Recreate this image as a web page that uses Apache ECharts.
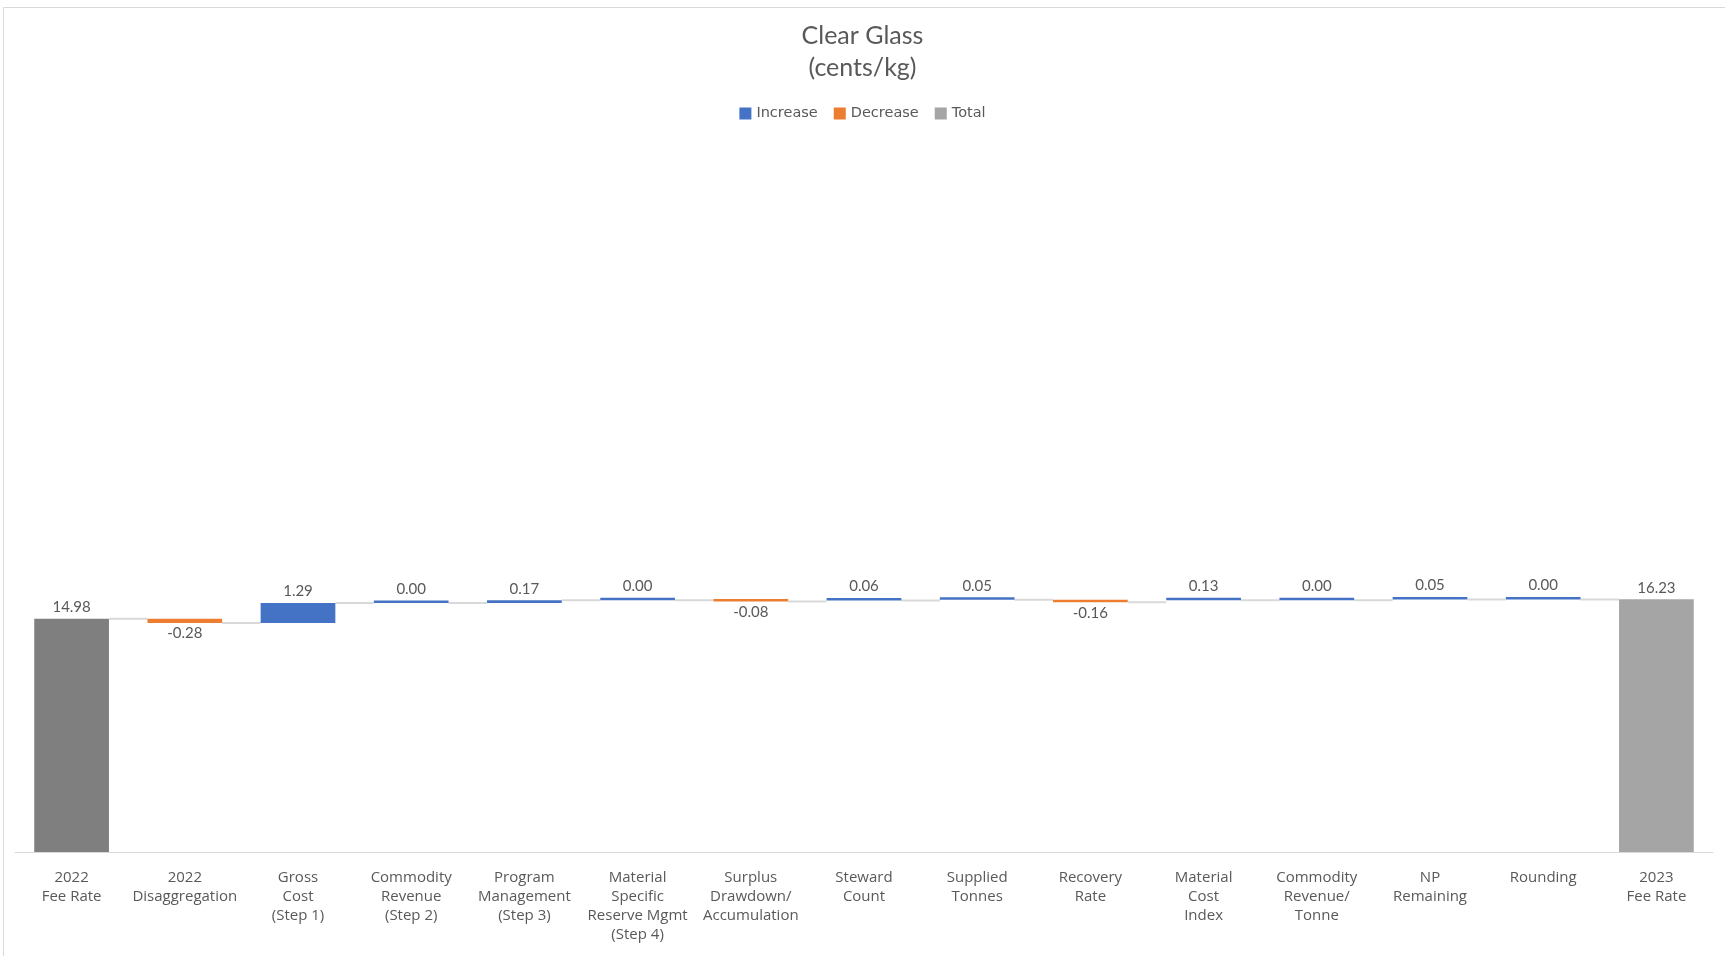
<!DOCTYPE html>
<html>
<head>
<meta charset="utf-8">
<script src="https://cdn.jsdelivr.net/npm/echarts@6/dist/echarts.min.js"></script>
<style>
html,body{margin:0;padding:0;background:#fff;}
#chart{width:1725px;height:956px;}
</style>
</head>
<body>
<div id="chart"></div>
<script>
// ---- data ----
const categories = [
  '2022\nFee Rate', '2022\nDisaggregation', 'Gross\nCost\n(Step 1)', 'Commodity\nRevenue\n(Step 2)',
  'Program\nManagement\n(Step 3)', 'Material\nSpecific\nReserve Mgmt\n(Step 4)', 'Surplus\nDrawdown/\nAccumulation',
  'Steward\nCount', 'Supplied\nTonnes', 'Recovery\nRate', 'Material\nCost\nIndex',
  'Commodity\nRevenue/\nTonne', 'NP\nRemaining', 'Rounding', '2023\nFee Rate'
];
const values = [14.98, -0.28, 1.29, 0.00, 0.17, 0.00, -0.08, 0.06, 0.05, -0.16, 0.13, 0.00, 0.05, 0.00, 16.23];
const isTotal = [true, false, false, false, false, false, false, false, false, false, false, false, false, false, true];

// ---- build ranges ----
const incData = [], decData = [], totData = [], connData = [];
let running = 0;
const ends = [];
values.forEach((v, i) => {
  let start, end;
  if (isTotal[i]) { start = 0; end = v; }
  else { start = running; end = running + v; }
  running = end;
  ends.push(end);
  const item = [i, start, end, v];
  if (isTotal[i]) totData.push(item);
  else if (v < 0) decData.push(item);
  else incData.push(item);
});
for (let i = 0; i < values.length - 1; i++) connData.push([i, ends[i]]);

const BAR_FRAC = 0.66;
const FONT = 'Lato, "Open Sans", sans-serif';
const TXT = '#595959';

function barRender(color, below) {
  return function (params, api) {
    const idx = api.value(0);
    const p0 = api.coord([idx, api.value(1)]);
    const p1 = api.coord([idx, api.value(2)]);
    const w = api.size([1, 0])[0] * BAR_FRAC;
    let y = Math.min(p0[1], p1[1]);
    let h = Math.abs(p0[1] - p1[1]);
    if (h < 2.5) { y = p1[1] - 2.5; h = 2.5; }
    return {
      type: 'rect',
      shape: { x: p0[0] - w / 2, y: y, width: w, height: h },
      style: { fill: color },
      textContent: {
        style: { text: api.value(3).toFixed(2), fill: TXT, font: '15px ' + FONT }
      },
      textConfig: { position: below ? 'bottom' : 'top', distance: below ? 3 : 4 }
    };
  };
}

const chart = echarts.init(document.getElementById('chart'));
chart.setOption({
  animation: false,
  backgroundColor: '#fff',
  graphic: [{
    type: 'rect', silent: true, z: -10,
    shape: { x: 3.5, y: 7.5, width: 1760, height: 1000 },
    style: { fill: 'none', stroke: '#d9d9d9', lineWidth: 1 }
  }],
  title: {
    text: 'Clear Glass\n(cents/kg)',
    left: 'center', top: 15,
    textStyle: { fontFamily: FONT, fontSize: 25, fontWeight: 'normal', color: TXT, lineHeight: 32 }
  },
  legend: {
    top: 101, left: 'center',
    data: ['Increase', 'Decrease', 'Total'],
    itemWidth: 12, itemHeight: 12, itemGap: 16, icon: 'rect',
    textStyle: { fontFamily: '"DejaVu Sans", sans-serif', fontSize: 14.5, color: TXT }
  },
  grid: { left: 15, right: 12, top: 151, bottom: 104 },
  xAxis: {
    type: 'category', data: categories,
    axisLine: { lineStyle: { color: '#d9d9d9', width: 1 } },
    axisTick: { show: false },
    axisLabel: {
      interval: 0, color: TXT, fontFamily: '"Open Sans", sans-serif', fontSize: 15,
      lineHeight: 19, margin: 16
    }
  },
  yAxis: { type: 'value', min: 0, max: 45, show: false, splitLine: { show: false } },
  series: [
    {
      name: 'Connector', type: 'custom', data: connData, z: 1, silent: true,
      renderItem: function (params, api) {
        const i = api.value(0);
        const lvl = api.value(1);
        const w = api.size([1, 0])[0] * BAR_FRAC;
        const a = api.coord([i, lvl]);
        const b = api.coord([i + 1, lvl]);
        return {
          type: 'line',
          shape: { x1: a[0] + w / 2, y1: a[1], x2: b[0] - w / 2, y2: b[1] },
          style: { stroke: '#d9d9d9', lineWidth: 2 }
        };
      }
    },
    { name: 'Increase', type: 'custom', color: '#4472c4', data: incData, z: 2, renderItem: barRender('#4472c4', false) },
    { name: 'Decrease', type: 'custom', color: '#ed7d31', data: decData, z: 2, renderItem: barRender('#ed7d31', true) },
    {
      name: 'Total', type: 'custom', color: '#a5a5a5', data: totData, z: 2,
      renderItem: function (params, api) {
        const idx = api.value(0);
        return barRender(idx === 0 ? '#7f7f7f' : '#a5a5a5', false)(params, api);
      }
    }
  ]
});
</script>
</body>
</html>
